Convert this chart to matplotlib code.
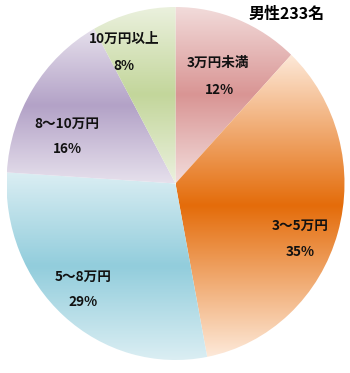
import numpy as np
import matplotlib
matplotlib.use("Agg")
import matplotlib.pyplot as plt
from matplotlib.colors import to_rgb

plt.rcParams['font.family'] = ['Noto Sans CJK JP', 'DejaVu Sans']

categories = ["3万円未満", "3～5万円", "5～8万円", "8～10万円", "10万円以上"]
percents = [12, 35, 29, 16, 8]
title = "男性233名"

dark_colors = ["#d99594", "#e46c0a", "#92cddc", "#b3a2c7", "#c3d69b"]
light_colors = ["#f2dcdb", "#fde9d9", "#dbeef3", "#e6e0ec", "#ebf1de"]

W, H = 350, 373
fig = plt.figure(figsize=(W / 100, H / 100), dpi=100)
fig.patch.set_facecolor("white")

# pie box in pixels
cx, cy, rx, ry = 175.5, 183.5, 169, 176.5
ax = fig.add_axes([(cx - rx) / W, (H - cy - ry) / H, 2 * rx / W, 2 * ry / H])
wedges, _ = ax.pie(percents, startangle=90, counterclock=False, radius=1,
                   wedgeprops=dict(facecolor="none", edgecolor="none"))
ax.set_aspect('auto')
ax.set_xlim(-1, 1)
ax.set_ylim(-1, 1)
ax.axis('off')

N = 256
for w, dc, lc in zip(wedges, dark_colors, light_colors):
    ext = w.get_path().get_extents()
    t = np.linspace(0, 1, N)
    f = 1 - np.abs(2 * t - 1)
    d = np.array(to_rgb(dc)); l = np.array(to_rgb(lc))
    cols = l[None, :] * (1 - f[:, None]) + d[None, :] * f[:, None]
    img = cols[:, None, :]
    im = ax.imshow(img, extent=(ext.x0, ext.x1, ext.y0, ext.y1), origin='lower',
                   aspect='auto', interpolation='bilinear', zorder=1)
    im.set_clip_path(w)
ax.set_xlim(-1, 1)
ax.set_ylim(-1, 1)

def ftext(x, y, s, **kw):
    fig.text(x / W, 1 - y / H, s, ha='center', va='center', **kw)

label_pos = [((218, 63), (219, 90)),
             ((300, 226), (300, 252)),
             ((83, 277), (83, 302)),
             ((67, 124), (67, 149)),
             ((124, 39), (124, 66))]
for cat, p, (lp, pp) in zip(categories, percents, label_pos):
    ftext(lp[0], lp[1], cat, fontsize=9.8, fontweight='bold', color='#111111')
    ftext(pp[0], pp[1], f"{p}%", fontsize=9.8, fontweight='bold', color='#111111')

ftext(287, 14, title, fontsize=11.5, fontweight='bold', color='black')

fig.savefig("out.png", dpi=100, facecolor="white")
